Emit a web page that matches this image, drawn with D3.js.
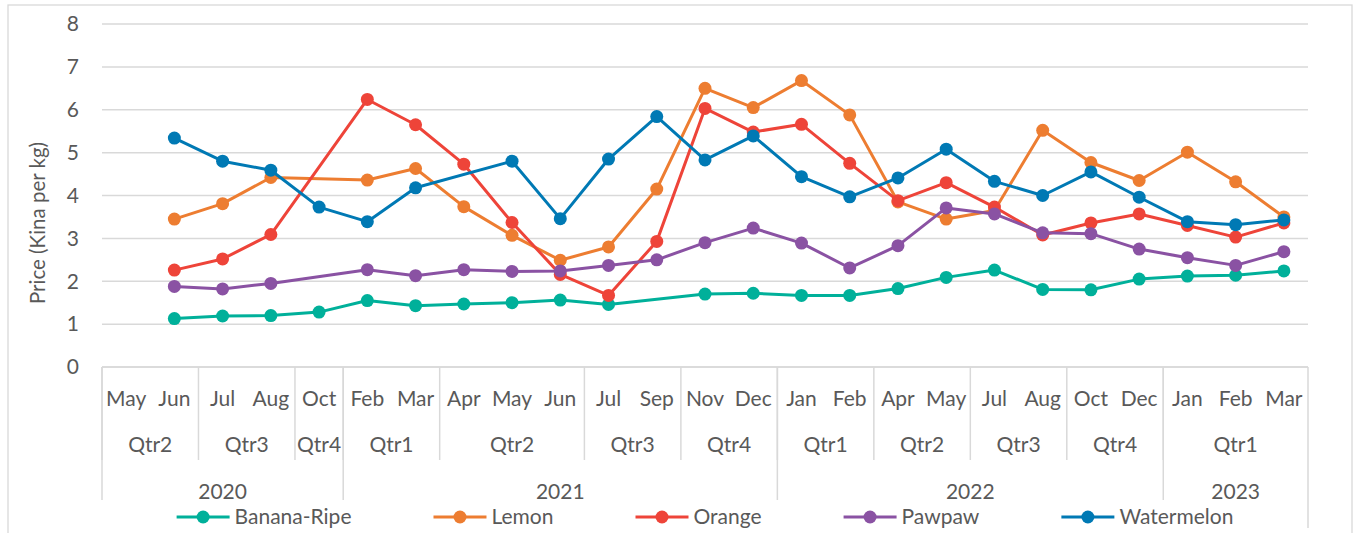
<!DOCTYPE html>
<html>
<head>
<meta charset="utf-8">
<script src="https://cdn.jsdelivr.net/npm/d3@7"></script>
<style>
  body { margin: 0; background: #fff; }
  text { font-family: Lato, "Open Sans", sans-serif; fill: #595959; }
</style>
</head>
<body>
<div id="chart"></div>
<script>
// Category levels (one entry per month)
const months = ["May","Jun","Jul","Aug","Oct","Feb","Mar","Apr","May","Jun","Jul","Sep","Nov","Dec",
                "Jan","Feb","Apr","May","Jul","Aug","Oct","Dec","Jan","Feb","Mar"];
const quarters = ["Qtr2","Qtr2","Qtr3","Qtr3","Qtr4","Qtr1","Qtr1","Qtr2","Qtr2","Qtr2","Qtr3","Qtr3","Qtr4","Qtr4",
                  "Qtr1","Qtr1","Qtr2","Qtr2","Qtr3","Qtr3","Qtr4","Qtr4","Qtr1","Qtr1","Qtr1"];
const years = ["2020","2020","2020","2020","2020",
               "2021","2021","2021","2021","2021","2021","2021","2021","2021",
               "2022","2022","2022","2022","2022","2022","2022","2022",
               "2023","2023","2023"];

// Series values (Kina per kg), null = no observation
const banana = [null,1.13,1.19,1.20,1.28,1.55,1.43,1.47,1.50,1.56,1.46,null,1.70,1.72,1.67,1.67,1.83,2.09,2.26,1.81,1.80,2.05,2.12,2.14,2.24];
const lemon = [null,3.45,3.81,4.42,null,4.36,4.63,3.74,3.07,2.49,2.80,4.15,6.50,6.05,6.68,5.88,3.85,3.45,3.65,5.52,4.77,4.35,5.01,4.32,3.50];
const orange = [null,2.26,2.52,3.09,null,6.24,5.65,4.73,3.37,2.16,1.67,2.93,6.03,5.48,5.66,4.75,3.88,4.30,3.73,3.08,3.36,3.57,3.30,3.03,3.36];
const pawpaw = [null,1.88,1.82,1.95,null,2.27,2.13,2.27,2.23,2.24,2.37,2.50,2.90,3.24,2.89,2.31,2.83,3.71,3.57,3.13,3.11,2.75,2.55,2.37,2.69];
const watermelon = [null,5.34,4.80,4.59,3.73,3.39,4.18,null,4.80,3.46,4.85,5.84,4.83,5.39,4.44,3.97,4.41,5.08,4.33,4.00,4.55,3.96,3.39,3.32,3.43];

const seriesNames = ["Banana-Ripe","Lemon","Orange","Pawpaw","Watermelon"];
const seriesColors = ["#00B09A","#ED7D31","#EE4439","#8A52A3","#0079B4"];
const yTicks = [0,1,2,3,4,5,6,7,8];

const width = 1354, height = 533;
const plot = { left: 102, right: 1308, top: 24, bottom: 367 };
const fontSize = "21px";

const svg = d3.select("#chart").append("svg")
    .attr("width", width)
    .attr("height", height);

// Chart border
svg.append("rect")
    .attr("x", 8).attr("y", 5)
    .attr("width", 1344).attr("height", 560)
    .attr("fill", "none")
    .attr("stroke", "#D9D9D9")
    .attr("stroke-width", 1.3);

const x = d3.scaleBand()
    .domain(d3.range(months.length))
    .range([plot.left, plot.right]);

const y = d3.scaleLinear()
    .domain([0, 8])
    .range([plot.bottom, plot.top]);

// Gridlines
svg.append("g").selectAll("line")
    .data(yTicks)
    .enter().append("line")
    .attr("x1", plot.left).attr("x2", plot.right)
    .attr("y1", d => y(d)).attr("y2", d => y(d))
    .attr("stroke", "#D9D9D9")
    .attr("stroke-width", 1.5);

// Y tick labels
svg.append("g").selectAll("text")
    .data(yTicks)
    .enter().append("text")
    .attr("x", 79)
    .attr("y", d => y(d))
    .attr("dy", "0.35em")
    .attr("text-anchor", "end")
    .style("font-size", fontSize)
    .text(d => d);

// Y axis title
svg.append("text")
    .attr("transform", "translate(45,223) rotate(-90)")
    .attr("text-anchor", "middle")
    .style("font-size", "20.5px")
    .text("Price (Kina per kg)");

// Multi-level category axis
const bw = x.bandwidth();
function groups(keyFn) {
    const out = [];
    months.forEach((m, i) => {
        const k = keyFn(i);
        if (out.length && out[out.length - 1].key === k) out[out.length - 1].end = i;
        else out.push({ key: k, start: i, end: i });
    });
    return out;
}
const qGroups = groups(i => years[i] + quarters[i]);
const yGroups = groups(i => years[i]);

const axis = svg.append("g");
svg.selectAll(".mlabel")
    .data(months)
    .enter().append("text")
    .attr("x", (d, i) => x(i) + bw / 2)
    .attr("y", 406)
    .attr("text-anchor", "middle")
    .style("font-size", fontSize)
    .text(d => d);

axis.selectAll(".qline")
    .data(qGroups)
    .enter().append("line")
    .attr("x1", d => x(d.start)).attr("x2", d => x(d.start))
    .attr("y1", plot.bottom).attr("y2", 460)
    .attr("stroke", "#D9D9D9").attr("stroke-width", 1.5);

svg.selectAll(".qlabel")
    .data(qGroups)
    .enter().append("text")
    .attr("x", d => (x(d.start) + x(d.end) + bw) / 2)
    .attr("y", 452)
    .attr("text-anchor", "middle")
    .style("font-size", fontSize)
    .text(d => quarters[d.start]);

axis.selectAll(".yline")
    .data(yGroups)
    .enter().append("line")
    .attr("x1", d => x(d.start)).attr("x2", d => x(d.start))
    .attr("y1", plot.bottom).attr("y2", 500)
    .attr("stroke", "#D9D9D9").attr("stroke-width", 1.5);

axis.append("line")
    .attr("x1", plot.right).attr("x2", plot.right)
    .attr("y1", plot.bottom).attr("y2", 528)
    .attr("stroke", "#D9D9D9").attr("stroke-width", 1.5);

axis.append("line")
    .attr("x1", plot.left).attr("x2", plot.right)
    .attr("y1", plot.bottom).attr("y2", plot.bottom)
    .attr("stroke", "#D9D9D9").attr("stroke-width", 1.5);

svg.selectAll(".ylabel")
    .data(yGroups)
    .enter().append("text")
    .attr("x", d => (x(d.start) + x(d.end) + bw) / 2)
    .attr("y", 499)
    .attr("text-anchor", "middle")
    .style("font-size", fontSize)
    .text(d => years[d.start]);

// Series
const allSeries = [banana, lemon, orange, pawpaw, watermelon];
const line = d3.line()
    .x(d => x(d.i) + bw / 2)
    .y(d => y(d.v));

allSeries.forEach((vals, s) => {
    const pts = vals.map((v, i) => ({ i: i, v: v })).filter(d => d.v !== null);
    const g = svg.append("g");
    g.append("path")
        .datum(pts)
        .attr("d", line)
        .attr("fill", "none")
        .attr("stroke", seriesColors[s])
        .attr("stroke-width", 3)
        .attr("stroke-linejoin", "round");
    g.selectAll("circle")
        .data(pts)
        .enter().append("circle")
        .attr("cx", d => x(d.i) + bw / 2)
        .attr("cy", d => y(d.v))
        .attr("r", 6.5)
        .attr("fill", seriesColors[s]);
});

// Legend
const legend = svg.append("g");
let lx = 0;
const items = [];
seriesNames.forEach((name, s) => {
    const item = legend.append("g").attr("transform", "translate(" + lx + ",0)");
    item.append("line")
        .attr("x1", 0).attr("x2", 53)
        .attr("y1", 0).attr("y2", 0)
        .attr("stroke", seriesColors[s]).attr("stroke-width", 3);
    item.append("circle")
        .attr("cx", 26.5).attr("cy", 0).attr("r", 6.5)
        .attr("fill", seriesColors[s]);
    const t = item.append("text")
        .attr("x", 58).attr("y", 0).attr("dy", "0.35em")
        .style("font-size", fontSize)
        .text(name);
    const tw = t.node().getComputedTextLength();
    items.push(lx + 58 + tw);
    lx += 58 + tw + 82;
});
const legendW = items[items.length - 1];
legend.attr("transform", "translate(" + ((plot.left + plot.right) / 2 - legendW / 2) + ",517)");
</script>
</body>
</html>
